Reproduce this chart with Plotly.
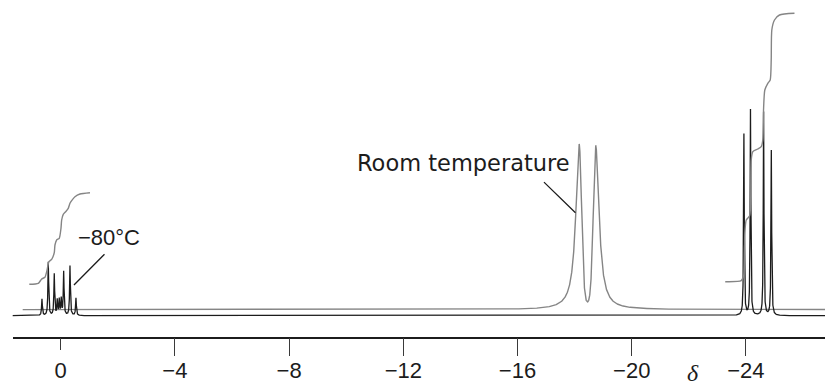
import numpy as np
import plotly.graph_objects as go

# ---------------- data ----------------
# -80 °C spectrum (black): peak positions (delta, ppm), heights, half widths (ppm)
lt_pos = [0.655, 0.434, 0.224, 0.120, 0.050, -0.020, -0.105, -0.326, -0.536,
          -23.93, -24.16, -24.62, -24.89]
lt_height = [16.4, 53.4, 41.4, 15.0, 15.7, 16.4, 43.7, 49.7, 17.4,
             181.4, 205.7, 203.4, 165.0]
lt_hwhm = [0.016, 0.016, 0.016, 0.016, 0.016, 0.016, 0.016, 0.016, 0.016,
           0.014, 0.014, 0.014, 0.014]
lt_baseline = 0.0
lt_start = 1.78

# Room temperature spectrum (grey)
rt_pos = [-18.16, -18.74]
rt_height = [164.6, 163.0]
rt_hwhm_outer = [0.14, 0.14]
rt_hwhm_inner = [0.10, 0.10]
rt_eta_inner = 0.2
rt_baseline = 6.1
rt_start = 1.33

# Integral traces (grey)
int1_x = [1.099, 0.784, 0.665, 0.550, 0.490, 0.410, 0.315, 0.224, 0.200, 0.140,
          0.049, -0.011, -0.035, -0.091, -0.175, -0.266, -0.326, -0.385, -0.501,
          -0.676, -1.026]
int1_y = [31.4, 32.4, 36.7, 38.4, 44.0, 54.0, 56.4, 63.0, 70.7, 75.7,
          77.4, 87.4, 95.7, 101.4, 104.0, 107.4, 112.4, 115.0, 119.0,
          121.7, 123.0]
int2_x = [-23.276, -23.836, -23.927, -23.962, -24.011, -24.127, -24.162, -24.186,
          -24.242, -24.417, -24.536, -24.592, -24.617, -24.662, -24.767, -24.851,
          -24.886, -24.907, -25.001, -25.176, -25.701]
int2_y = [34.0, 35.0, 40.7, 82.4, 95.7, 99.7, 109.0, 155.7,
          164.0, 166.7, 169.0, 175.7, 205.7, 225.7, 232.4, 235.7,
          255.7, 285.7, 295.7, 300.7, 302.4]

tick_vals = [0, -4, -8, -12, -16, -20, -24]
tick_text = ["0", "\u22124", "\u22128", "\u221212", "\u221216", "\u221220", "\u221224"]

x_range = [1.680, -26.77]

# ---------------- build spectra ----------------
grid = np.arange(x_range[0] + 0.2, x_range[1] - 0.1, -0.002)
grid = np.sort(np.concatenate([grid, lt_pos, rt_pos]))[::-1]

x_lt = grid[grid <= lt_start]
y_lt = np.full_like(x_lt, lt_baseline)
for p, h, w in zip(lt_pos, lt_height, lt_hwhm):
    y_lt += h * w ** 2 / ((x_lt - p) ** 2 + w ** 2)


def pvoigt(d, w, eta):
    r = (d / w) ** 2
    return eta / (1 + r) + (1 - eta) * np.exp(-np.log(2) * r)


x_rt = grid[grid <= rt_start]
y_rt = np.full_like(x_rt, rt_baseline)
centre = np.mean(rt_pos)
for p, h, wo, wi in zip(rt_pos, rt_height, rt_hwhm_outer, rt_hwhm_inner):
    d = x_rt - p
    outer_sign = np.sign(p - centre)
    outer = np.sign(d) == outer_sign
    prof = np.where(outer, pvoigt(d, wo, 1.0), pvoigt(d, wi, rt_eta_inner))
    y_rt += h * prof

BLACK = "#1c1c1c"
GREY = "#858585"

fig = go.Figure()
fig.add_trace(go.Scatter(x=x_rt, y=y_rt, mode="lines",
                         line=dict(color=GREY, width=1.4), hoverinfo="skip"))
fig.add_trace(go.Scatter(x=x_lt, y=y_lt, mode="lines",
                         line=dict(color=BLACK, width=1.3), hoverinfo="skip"))
for ix, iy in ((int1_x, int1_y), (int2_x, int2_y)):
    fig.add_trace(go.Scatter(x=ix, y=iy, mode="lines",
                             line=dict(color=GREY, width=1.4, shape="spline", smoothing=0.6),
                             hoverinfo="skip"))

dom = [12.7 / 825, 1]
fig.update_layout(
    width=825, height=388,
    margin=dict(l=0, r=0, t=0, b=0, autoexpand=False),
    paper_bgcolor="white", plot_bgcolor="white",
    showlegend=False,
    xaxis=dict(domain=dom, range=x_range, showgrid=False, zeroline=False,
               showline=True, linecolor=BLACK, linewidth=2.2,
               tickvals=tick_vals, ticktext=tick_text, ticks="",
               ticklabelstandoff=12, automargin=False,
               tickfont=dict(family="Liberation Sans", size=22, color=BLACK)),
    xaxis2=dict(domain=dom, range=x_range, overlaying="x", anchor="y", side="bottom",
                showgrid=False, zeroline=False, showline=False, automargin=False,
                tickvals=tick_vals[1:], showticklabels=False,
                ticks="outside", ticklen=18, tickwidth=1.4, tickcolor="#3a3a3a"),
    xaxis3=dict(domain=dom, range=x_range, overlaying="x", anchor="y", side="bottom",
                showgrid=False, zeroline=False, showline=False, automargin=False,
                tickvals=tick_vals[:1], showticklabels=False,
                ticks="outside", ticklen=12, tickwidth=1.4, tickcolor="#3a3a3a"),
    yaxis=dict(domain=[(388 - 337.3) / 388, 1], range=[-21.6, 315.7],
               visible=False, showgrid=False, zeroline=False),
)
# dummy traces so the overlay axes render
fig.add_trace(go.Scatter(x=[None], y=[None], xaxis="x2", showlegend=False))
fig.add_trace(go.Scatter(x=[None], y=[None], xaxis="x3", showlegend=False))

fig.add_annotation(x=-14.12, y=152.7, xref="x", yref="y", text="Room temperature",
                   showarrow=False, font=dict(family="DejaVu Sans", size=22.5, color=BLACK))
fig.add_annotation(x=-1.708, y=78.2, xref="x", yref="y", text="\u221280\u00b0C",
                   showarrow=False, font=dict(family="Liberation Sans", size=22, color=BLACK))
fig.add_annotation(x=-18.03, y=103, xref="x", yref="y", text="", showarrow=True,
                   ax=-33, ay=-32, arrowhead=0, arrowwidth=1.3, arrowcolor=BLACK)
fig.add_annotation(x=-0.466, y=30.7, xref="x", yref="y", text="", showarrow=True,
                   ax=32, ay=-32.3, arrowhead=0, arrowwidth=1.3, arrowcolor=BLACK)
fig.add_annotation(x=-22.15, y=0.0, xref="x", yref="paper",
                   text="<i>\u03b4</i>", showarrow=False, yanchor="bottom",
                   font=dict(family="Liberation Serif", size=24, color=BLACK))

fig.write_html("out.html", config={"displayModeBar": False},
               post_script="document.body.style.margin='0';document.body.style.overflow='hidden';")
